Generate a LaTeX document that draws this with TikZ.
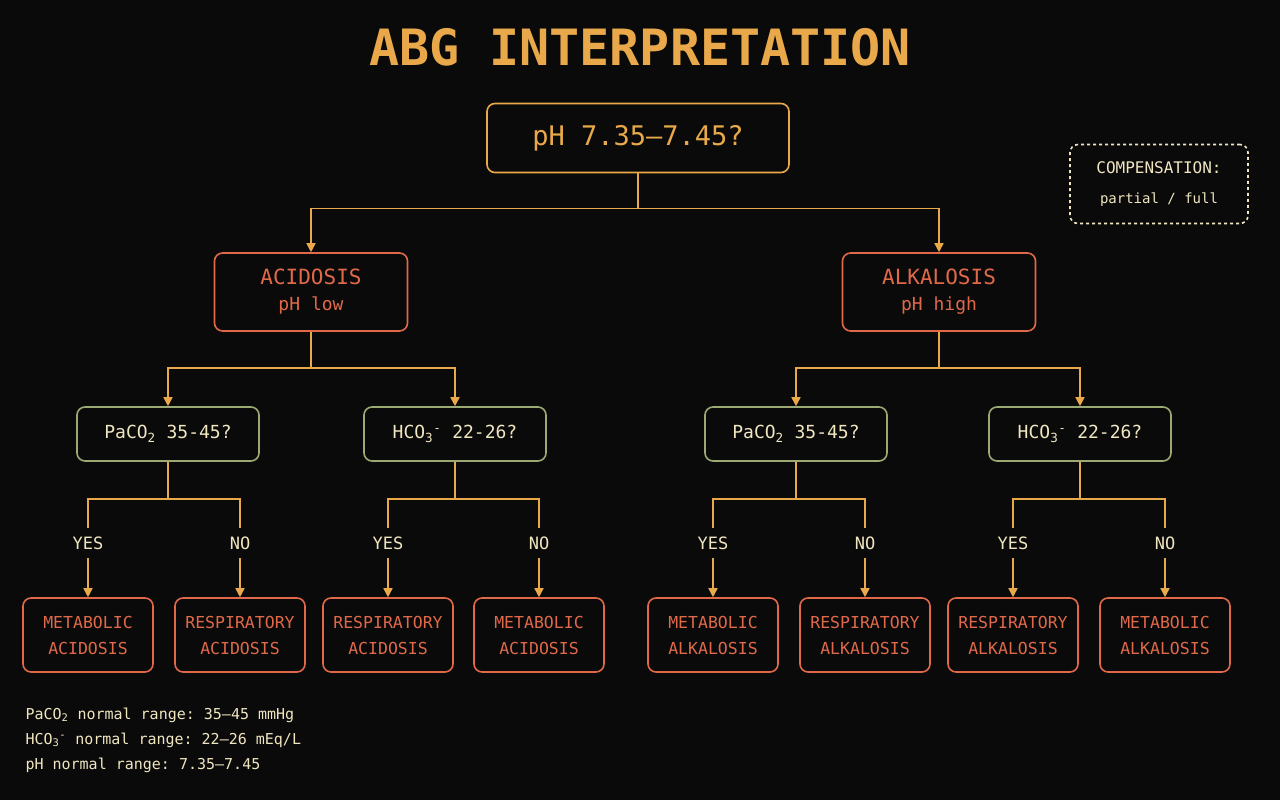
\documentclass[tikz,border=0pt]{standalone}
\usepackage{fontspec}
\setmonofont{DejaVu Sans Mono}
\usetikzlibrary{arrows.meta}
\definecolor{bg}{HTML}{0A0A0A}
\definecolor{gold}{HTML}{E9A94A}
\definecolor{rust}{HTML}{E0694A}
\definecolor{sage}{HTML}{9BAA72}
\definecolor{cream}{HTML}{F0E6C0}
\tikzset{
  box/.style={draw, line width=1.6pt, rounded corners=8pt, fill=bg, align=center, font=\ttfamily},
  top/.style={box, draw=gold, text=gold, minimum width=302, minimum height=69, font=\ttfamily\fontsize{27}{30}\selectfont},
  state/.style={box, draw=rust, text=rust, minimum width=193, minimum height=78, font=\ttfamily\fontsize{21}{26}\selectfont},
  test/.style={box, draw=sage, text=cream, minimum width=182, minimum height=54, font=\ttfamily\fontsize{18}{22}\selectfont},
  leaf/.style={box, draw=rust, text=rust, minimum width=130, minimum height=74, font=\ttfamily\fontsize{16.5}{26}\selectfont},
  ans/.style={text=cream, font=\ttfamily\fontsize{17}{20}\selectfont, minimum height=30, inner sep=0pt},
  conn/.style={draw=gold, line width=1.6pt},
  arr/.style={conn, -{Triangle[length=9pt,width=9pt]}},
  note/.style={text=cream, anchor=west, font=\ttfamily\fontsize{15}{18}\selectfont}
}
\begin{document}
\begin{tikzpicture}[x=1pt,y=-1pt]
\useasboundingbox[fill=bg] (0,0) rectangle (1280,800);
\node (title) [text=gold, font=\ttfamily\bfseries\fontsize{50}{56}\selectfont] at (640,47) {ABG INTERPRETATION};
\node (ph) [top] at (638,138) {pH 7.35–7.45?};
\node (comp) [box, draw=cream, dashed, text=cream, minimum width=178, minimum height=79,
  font=\ttfamily\fontsize{16}{30}\selectfont] at (1159,184)
  {COMPENSATION:\\{\fontsize{14}{16}\selectfont partial / full}};

% second level
\node (acid) [state] at (311,292) {ACIDOSIS\\{\fontsize{18}{20}\selectfont pH low}};
\node (alk) [state] at (939,292) {ALKALOSIS\\{\fontsize{18}{20}\selectfont pH high}};
\draw[arr] (ph.south) -- ++(0,35) -| (acid.north);
\draw[arr] (ph.south) -- ++(0,35) -| (alk.north);

% tests
\node (pacl) [test] at (168,434) {PaCO\textsubscript{2} 35-45?};
\node (hcol) [test] at (455,434) {HCO\textsubscript{3}\textsuperscript{-} 22-26?};
\node (pacr) [test] at (796,434) {PaCO\textsubscript{2} 35-45?};
\node (hcor) [test] at (1080,434) {HCO\textsubscript{3}\textsuperscript{-} 22-26?};
\draw[arr] (acid.south) -- ++(0,36) -| (pacl.north);
\draw[arr] (acid.south) -- ++(0,36) -| (hcol.north);
\draw[arr] (alk.south) -- ++(0,36) -| (pacr.north);
\draw[arr] (alk.south) -- ++(0,36) -| (hcor.north);

% answers and results
\foreach \t/\x/\y/\n/\lab/\res in {
  pacl/88/y1/n1/YES/METABOLIC\\ACIDOSIS,
  pacl/240/y2/n2/NO/RESPIRATORY\\ACIDOSIS,
  hcol/388/y3/n3/YES/RESPIRATORY\\ACIDOSIS,
  hcol/539/y4/n4/NO/METABOLIC\\ACIDOSIS,
  pacr/713/y5/n5/YES/METABOLIC\\ALKALOSIS,
  pacr/865/y6/n6/NO/RESPIRATORY\\ALKALOSIS,
  hcor/1013/y7/n7/YES/RESPIRATORY\\ALKALOSIS,
  hcor/1165/y8/n8/NO/METABOLIC\\ALKALOSIS}{
  \node (\y) [ans] at (\x,543) {\lab};
  \node (\n) [leaf] at (\x,635) {\res};
  \draw[conn] (\t.south) -- ++(0,37) -| (\y.north);
  \draw[arr] (\y.south) -- (\n.north);
}

% notes
\node (n1) [note] at (22,715) {PaCO\textsubscript{2} normal range: 35–45 mmHg};
\node (n2) [note] at (22,740) {HCO\textsubscript{3}\textsuperscript{-} normal range: 22–26 mEq/L};
\node (n3) [note] at (22,765) {pH normal range: 7.35–7.45};
\end{tikzpicture}
\end{document}
